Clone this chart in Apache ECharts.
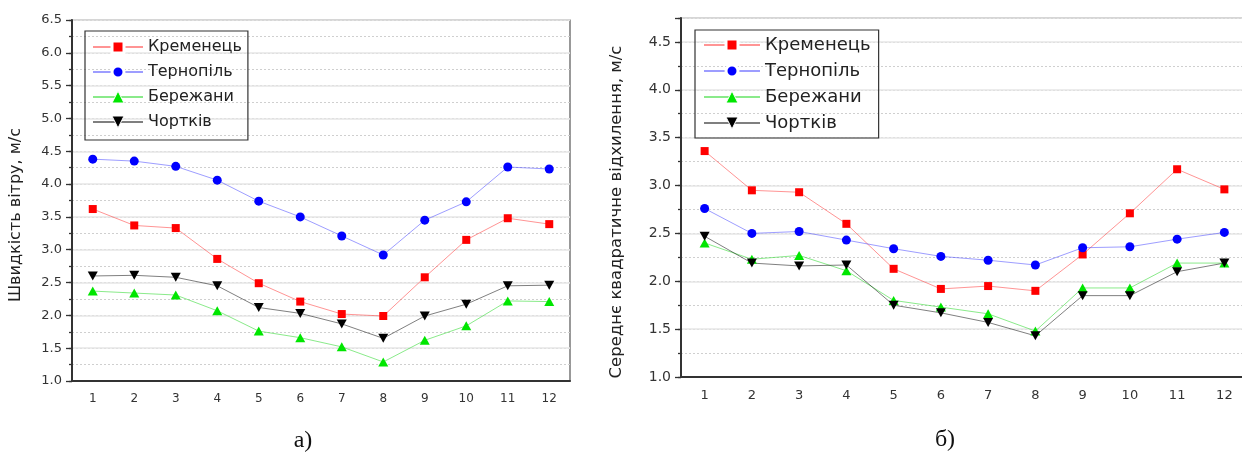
<!DOCTYPE html>
<html><head><meta charset="utf-8">
<script src="https://cdn.jsdelivr.net/npm/echarts@6/dist/echarts.min.js"></script>
<style>html,body{margin:0;padding:0;background:#fff}#c{width:1242px;height:461px}</style>
</head><body><div id="c"></div>
<script>
// ---- data ----
const months = ['1','2','3','4','5','6','7','8','9','10','11','12'];
const stationNames = ['Кременець','Тернопіль','Бережани','Чортків'];
// (а) mean wind speed, m/s
const speedKremenets = [3.62,3.37,3.33,2.86,2.49,2.21,2.02,1.99,2.58,3.15,3.48,3.39];
const speedTernopil  = [4.38,4.35,4.27,4.06,3.74,3.50,3.21,2.92,3.45,3.73,4.26,4.23];
const speedBerezhany = [2.37,2.34,2.31,2.07,1.76,1.66,1.52,1.29,1.62,1.84,2.22,2.21];
const speedChortkiv  = [2.60,2.61,2.58,2.45,2.12,2.03,1.87,1.65,1.99,2.17,2.45,2.46];
// (б) standard deviation, m/s
const sdKremenets = [3.36,2.95,2.93,2.60,2.13,1.92,1.95,1.90,2.28,2.71,3.17,2.96];
const sdTernopil  = [2.76,2.50,2.52,2.43,2.34,2.26,2.22,2.17,2.35,2.36,2.44,2.51];
const sdBerezhany = [2.40,2.23,2.27,2.11,1.80,1.73,1.66,1.48,1.93,1.93,2.19,2.19];
const sdChortkiv  = [2.47,2.19,2.16,2.17,1.75,1.67,1.57,1.43,1.85,1.85,2.10,2.19];
const yTitleA = 'Швидкість вітру, м/с';
const yTitleB = 'Середнє квадратичне відхилення, м/с';
const captionA = 'а)';
const captionB = 'б)';

// ---- styles ----
const FONT = '"DejaVu Sans", "Liberation Sans", Arial, sans-serif';
const marks = [
  {symbol:'rect', size:8, rotate:0, color:'#ff0000', line:'rgba(255,60,60,0.55)', gap:3},
  {symbol:'circle', size:9, rotate:0, color:'#0000ff', line:'rgba(60,60,255,0.5)', gap:3},
  {symbol:'triangle', size:[10,9], rotate:0, color:'#00e600', line:'rgba(60,220,60,0.6)', gap:1},
  {symbol:'triangle', size:[10,9], rotate:180, color:'#000000', line:'rgba(0,0,0,0.5)', gap:1}
];
const tickLine = {color:'#333', width:1.3};

function xMain(g, fs){ return {type:'category', gridIndex:g, position:'bottom', data:months, boundaryGap:true,
  axisLine:{lineStyle:{color:'#333', width:2}},
  axisTick:{alignWithLabel:true, interval:0, length:6, lineStyle:tickLine},
  axisLabel:{interval:0, color:'#333', fontSize:fs, fontFamily:FONT, margin:12},
  splitLine:{show:false}, z:1}; }
function xMinor(g){ return {type:'category', gridIndex:g, position:'bottom', data:months, boundaryGap:true,
  axisLine:{show:false}, axisTick:{interval:0, length:3, lineStyle:tickLine},
  axisLabel:{show:false}, splitLine:{show:false}, z:0}; }
function yMain(g, min, max, fs){ return {type:'value', gridIndex:g, position:'left', min:min, max:max, interval:0.5,
  axisLine:{show:true, lineStyle:{color:'#333', width:2}},
  axisTick:{show:true, length:6, lineStyle:tickLine},
  axisLabel:{color:'#333', fontSize:fs, fontFamily:FONT, margin:10,
    formatter: v => (Math.abs(v*2 - Math.round(v*2)) < 1e-6 ? v.toFixed(1) : '')},
  splitLine:{show:true, lineStyle:{color:'#e6e6e6', width:1.5}}, z:1}; }
function yMinor(g, min, max){ return {type:'value', gridIndex:g, position:'left', offset:0, min:min, max:max, interval:0.25,
  axisLine:{show:false}, axisTick:{show:true, length:3, lineStyle:tickLine},
  axisLabel:{show:false},
  splitLine:{show:true, lineStyle:{color:'#cfcfcf', width:1, type:[2,2]}}, z:0}; }

function mkSeries(name, data, i, ax){
  const m = marks[i];
  return {type:'line', name:name, data:data, xAxisIndex:ax, yAxisIndex:ax,
    symbol:m.symbol, symbolSize:m.size, symbolRotate:m.rotate, showAllSymbols:true,
    itemStyle:{color:m.color}, lineStyle:{color:m.line, width:1}, z:3};
}
const seriesA = [speedKremenets, speedTernopil, speedBerezhany, speedChortkiv];
const seriesB = [sdKremenets, sdTernopil, sdBerezhany, sdChortkiv];
const series = [];
seriesA.forEach((d,i)=>series.push(mkSeries(stationNames[i], d, i, 0)));
seriesB.forEach((d,i)=>series.push(mkSeries(stationNames[i], d, i, 2)));

const legendData = stationNames.map((n,i)=>({name:n, itemStyle:{borderColor:'#ffffff', borderWidth:marks[i].gap}}));
const chart = echarts.init(document.getElementById('c'), null, {renderer:'canvas'});
chart.setOption({
  animation:false,
  backgroundColor:'#fff',
  grid:[
    {left:72, top:20, width:498, height:361, show:true, borderColor:'#555', borderWidth:1.2, backgroundColor:'transparent', outerBoundsMode:'none', containLabel:false},
    {left:681, top:18, width:567, height:359, show:true, borderColor:'#555', borderWidth:1.2, backgroundColor:'transparent', outerBoundsMode:'none', containLabel:false}
  ],
  xAxis:[xMain(0,12), xMinor(0), xMain(1,13), xMinor(1)],
  yAxis:[yMain(0,1,6.5,13), yMinor(0,1,6.5), yMain(1,1,4.75,14), yMinor(1,1,4.75)],
  legend:[
    {left:85, top:31, orient:'vertical', data:legendData, itemWidth:50, itemHeight:15, itemGap:9,
     padding:[8,6,10,7], borderColor:'#333', borderWidth:1.2, selectedMode:false,
     textStyle:{fontSize:16, color:'#222', fontFamily:FONT}},
    {left:695, top:30, orient:'vertical', data:legendData, itemWidth:56, itemHeight:15, itemGap:8,
     padding:[6,8,6,8], borderColor:'#333', borderWidth:1.2, selectedMode:false,
     textStyle:{fontSize:18, color:'#222', fontFamily:FONT}}
  ],
  graphic:[
    {type:'text', x:16, y:215, rotation:Math.PI/2,
     style:{text:yTitleA, font:'16px ' + FONT, fill:'#222', textAlign:'center', textVerticalAlign:'middle'}},
    {type:'text', x:617, y:212, rotation:Math.PI/2,
     style:{text:yTitleB, font:'16.5px ' + FONT, fill:'#222', textAlign:'center', textVerticalAlign:'middle'}},
    {type:'text', x:303, y:441,
     style:{text:captionA, font:'24px "Liberation Serif", "Times New Roman", serif', fill:'#111', textAlign:'center', textVerticalAlign:'middle'}},
    {type:'text', x:945, y:440,
     style:{text:captionB, font:'24px "Liberation Serif", "Times New Roman", serif', fill:'#111', textAlign:'center', textVerticalAlign:'middle'}}
  ],
  series:series
});
</script></body></html>
